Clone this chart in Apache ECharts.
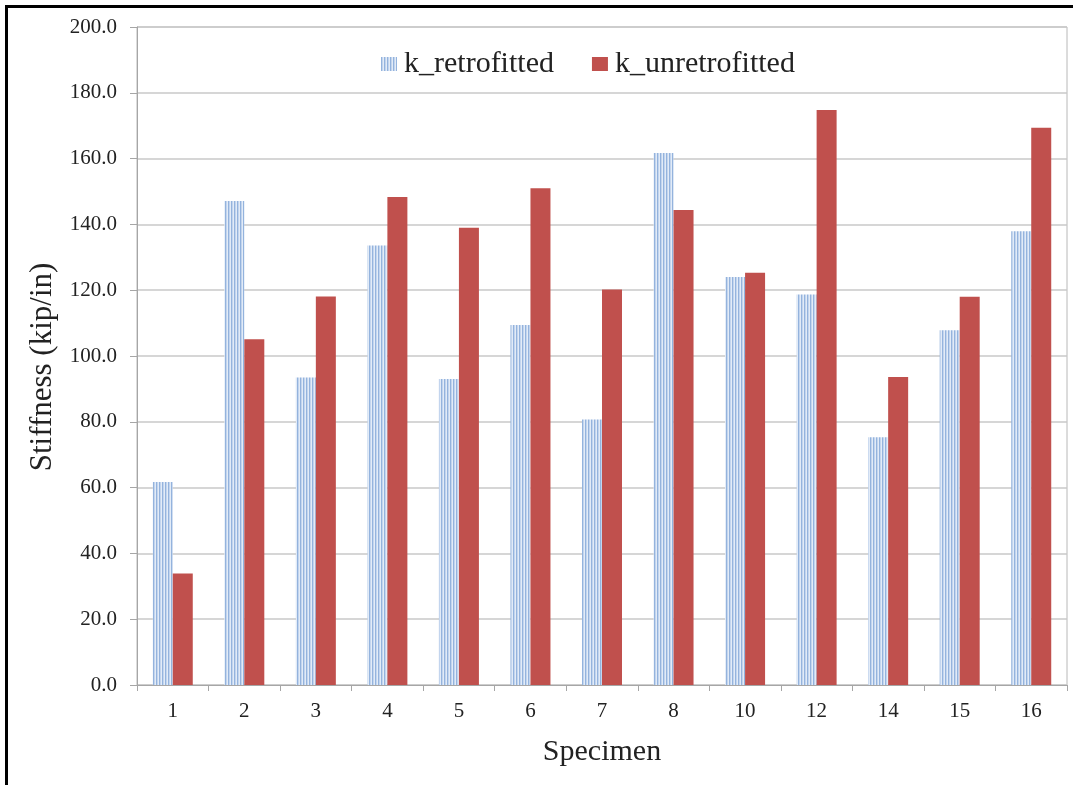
<!DOCTYPE html>
<html>
<head>
<meta charset="utf-8">
<script src="https://cdn.jsdelivr.net/npm/echarts@6/dist/echarts.min.js"></script>
<style>
  html, body { margin: 0; padding: 0; background: #fff; }
  #chart { width: 1073px; height: 785px; }
</style>
</head>
<body>
<div id="chart"></div>
<script>
// Specimen stiffness, retrofitted vs. unretrofitted
const specimens = ['1', '2', '3', '4', '5', '6', '7', '8', '10', '12', '14', '15', '16'];
const kRetrofitted = [61.7, 147.1, 93.5, 133.6, 93.0, 109.4, 80.7, 161.7, 124.0, 118.7, 75.3, 107.8, 137.9];
const kUnretrofitted = [33.9, 105.1, 118.1, 148.3, 139.0, 151.0, 120.2, 144.4, 125.3, 174.8, 93.6, 118.0, 169.4];
const yTicks = { min: 0, max: 200, interval: 20 };

// vertical-stripe fill for the retrofitted bars
function stripePattern() {
  const c = document.createElement('canvas');
  c.width = 3; c.height = 4;
  const g = c.getContext('2d');
  g.fillStyle = '#e2ebf7'; g.fillRect(0, 0, 3, 4);
  g.fillStyle = '#94b3dd'; g.fillRect(0, 0, 1, 4);
  g.fillStyle = '#c3d5ee'; g.fillRect(1, 0, 1, 4);
  return c;
}

const FONT = '"Liberation Serif", "Times New Roman", serif';
const chart = echarts.init(document.getElementById('chart'));

chart.setOption({
  animation: false,
  backgroundColor: '#fff',
  textStyle: { fontFamily: FONT, color: '#222' },
  grid: {
    left: 137, top: 27, right: 6, bottom: 100,
    show: true, borderColor: '#b8b8b8', borderWidth: 1
  },
  legend: {
    left: 376, top: 44,
    icon: 'rect',
    itemWidth: 16, itemHeight: 14, itemGap: 38,
    textStyle: { fontFamily: FONT, fontSize: 30, color: '#222', padding: [0, 0, 0, 2] },
    data: ['k_retrofitted', 'k_unretrofitted']
  },
  xAxis: {
    type: 'category',
    data: specimens,
    name: 'Specimen',
    nameLocation: 'middle',
    nameGap: 52,
    nameTextStyle: { fontFamily: FONT, fontSize: 30, color: '#222' },
    axisLine: { lineStyle: { color: '#a6a6a6', width: 1 } },
    axisTick: { show: true, length: 6, lineStyle: { color: '#a6a6a6' } },
    axisLabel: { fontFamily: FONT, fontSize: 21, color: '#222', margin: 16 },
    splitLine: { show: false }
  },
  yAxis: {
    type: 'value',
    min: yTicks.min, max: yTicks.max, interval: yTicks.interval,
    name: 'Stiffness (kip/in)',
    nameLocation: 'middle',
    nameGap: 73,
    nameRotate: 90,
    nameTextStyle: { fontFamily: FONT, fontSize: 31, color: '#222', padding: [0, 22, 0, 0] },
    axisLine: { show: true, lineStyle: { color: '#a6a6a6', width: 1 } },
    axisTick: { show: true, length: 7, lineStyle: { color: '#a6a6a6' } },
    axisLabel: {
      fontFamily: FONT, fontSize: 21, color: '#222', margin: 20,
      formatter: v => v.toFixed(1)
    },
    splitLine: { lineStyle: { color: '#c8c8c8', width: 1.5 } }
  },
  series: [
    {
      name: 'k_retrofitted',
      type: 'bar',
      data: kRetrofitted,
      barWidth: 20,
      barGap: '0%',
      itemStyle: { color: { image: stripePattern(), repeat: 'repeat' } }
    },
    {
      name: 'k_unretrofitted',
      type: 'bar',
      data: kUnretrofitted,
      barWidth: 20,
      barGap: '0%',
      itemStyle: { color: '#c0504d' }
    }
  ],
  graphic: [
    {
      type: 'rect',
      silent: true,
      shape: { x: 6.5, y: 6.5, width: 1200, height: 900 },
      style: { fill: 'none', stroke: '#000', lineWidth: 3 }
    }
  ]
});
</script>
</body>
</html>
